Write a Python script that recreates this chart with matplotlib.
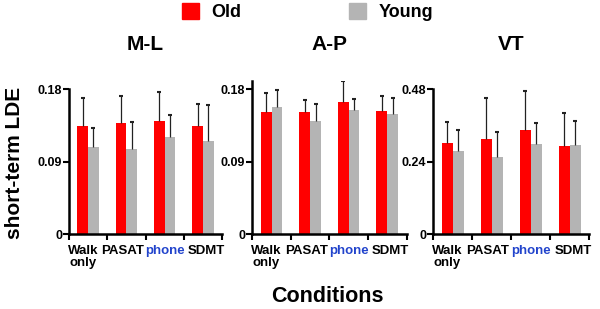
import numpy as np
import matplotlib
matplotlib.use("Agg")
import matplotlib.pyplot as plt
from matplotlib.patches import Patch

plt.rcParams['font.family'] = ['Liberation Sans', 'DejaVu Sans']
plt.rcParams['font.weight'] = 'bold'

conditions = ["Walk\nonly", "PASAT", "phone", "SDMT"]
groups = ["Old", "Young"]
panels = ["M-L", "A-P", "VT"]

# means and upper SD for each panel
old_ml = [0.134, 0.138, 0.140, 0.134]
old_ml_sd = [0.035, 0.034, 0.037, 0.028]
young_ml = [0.108, 0.106, 0.120, 0.115]
young_ml_sd = [0.024, 0.033, 0.028, 0.045]

old_ap = [0.151, 0.151, 0.1635, 0.153]
old_ap_sd = [0.024, 0.015, 0.026, 0.018]
young_ap = [0.158, 0.140, 0.154, 0.149]
young_ap_sd = [0.021, 0.021, 0.014, 0.0195]

old_vt = [0.302, 0.316, 0.344, 0.291]
old_vt_sd = [0.069, 0.133, 0.131, 0.111]
young_vt = [0.275, 0.254, 0.297, 0.295]
young_vt_sd = [0.071, 0.085, 0.072, 0.078]

yticks = [[0, 0.09, 0.18], [0, 0.09, 0.18], [0, 0.24, 0.48]]
ytick_labels = [["0", "0.09", "0.18"], ["0", "0.09", "0.18"], ["0", "0.24", "0.48"]]
ytops = [0.18, 0.19, 0.48]

old_c = "#ff0000"
young_c = "#b4b4b4"

fig = plt.figure(figsize=(6, 3.09), dpi=100)
positions = [
    [0.115, 0.2427, 0.255, 0.469],
    [0.4205, 0.2427, 0.257, 0.469 * 0.19 / 0.18],
    [0.722, 0.2427, 0.26, 0.469],
]
data = [(old_ml, old_ml_sd, young_ml, young_ml_sd),
        (old_ap, old_ap_sd, young_ap, young_ap_sd),
        (old_vt, old_vt_sd, young_vt, young_vt_sd)]

x = np.arange(len(conditions))
label_x = [-0.14, 0.9, 2.02, 3.08]
w = 0.28
ekw = dict(ecolor="#222222", elinewidth=0.9, capsize=1.5, capthick=1.5)
for i, (pos, d) in enumerate(zip(positions, data)):
    ax = fig.add_axes(pos)
    o, osd, y, ysd = d
    zeros = [0] * len(x)
    b1 = ax.bar(x - w / 2, o, w, color=old_c, yerr=[zeros, osd], error_kw=ekw)
    b2 = ax.bar(x + w / 2, y, w, color=young_c, yerr=[zeros, ysd], error_kw=ekw)
    # only the upper cap is drawn
    for b in (b1, b2):
        b.errorbar.lines[1][0].set_visible(False)
    ax.set_xlim(-0.5, 3.5)
    ax.set_ylim(0, ytops[i])
    ax.spines['top'].set_visible(False)
    ax.spines['right'].set_visible(False)
    ax.spines['left'].set_linewidth(1.8)
    ax.spines['bottom'].set_linewidth(1.8)
    ax.set_yticks(yticks[i])
    ax.set_yticklabels(ytick_labels[i], fontsize=9, fontweight='bold')
    ax.set_xticks(np.arange(-0.5, 4, 1))
    ax.set_xticklabels([])
    ax.set_xticks(label_x, minor=True)
    ax.set_xticklabels(conditions, minor=True, fontsize=9.5, fontweight='bold', linespacing=0.95)
    ax.tick_params(axis='x', which='minor', length=0, pad=8)
    ax.tick_params(axis='both', which='major', length=4, width=1.5, direction='out')
    ax.tick_params(axis='y', pad=1)
    for lab in ax.get_xticklabels(minor=True):
        if lab.get_text() == "phone":
            lab.set_color("#2244cc")
    fig.text(pos[0] + pos[2] / 2, 0.855, panels[i], ha='center', va='center',
             fontsize=15, fontweight='bold')

fig.text(0.024, 0.472, "short-term LDE", rotation=90, ha='center', va='center',
         fontsize=15, fontweight='bold')
fig.text(0.545, 0.04, "Conditions", ha='center', va='center', fontsize=15.5, fontweight='bold')

handles = [Patch(color=old_c), Patch(color=young_c)]
fig.legend(handles, groups, loc='center', bbox_to_anchor=(0.5125, 0.96), ncol=2,
           frameon=False, handlelength=0.94, handleheight=0.94,
           columnspacing=6.0, handletextpad=0.67, prop={'weight': 'bold', 'size': 13})

fig.savefig("out.png", dpi=100)
